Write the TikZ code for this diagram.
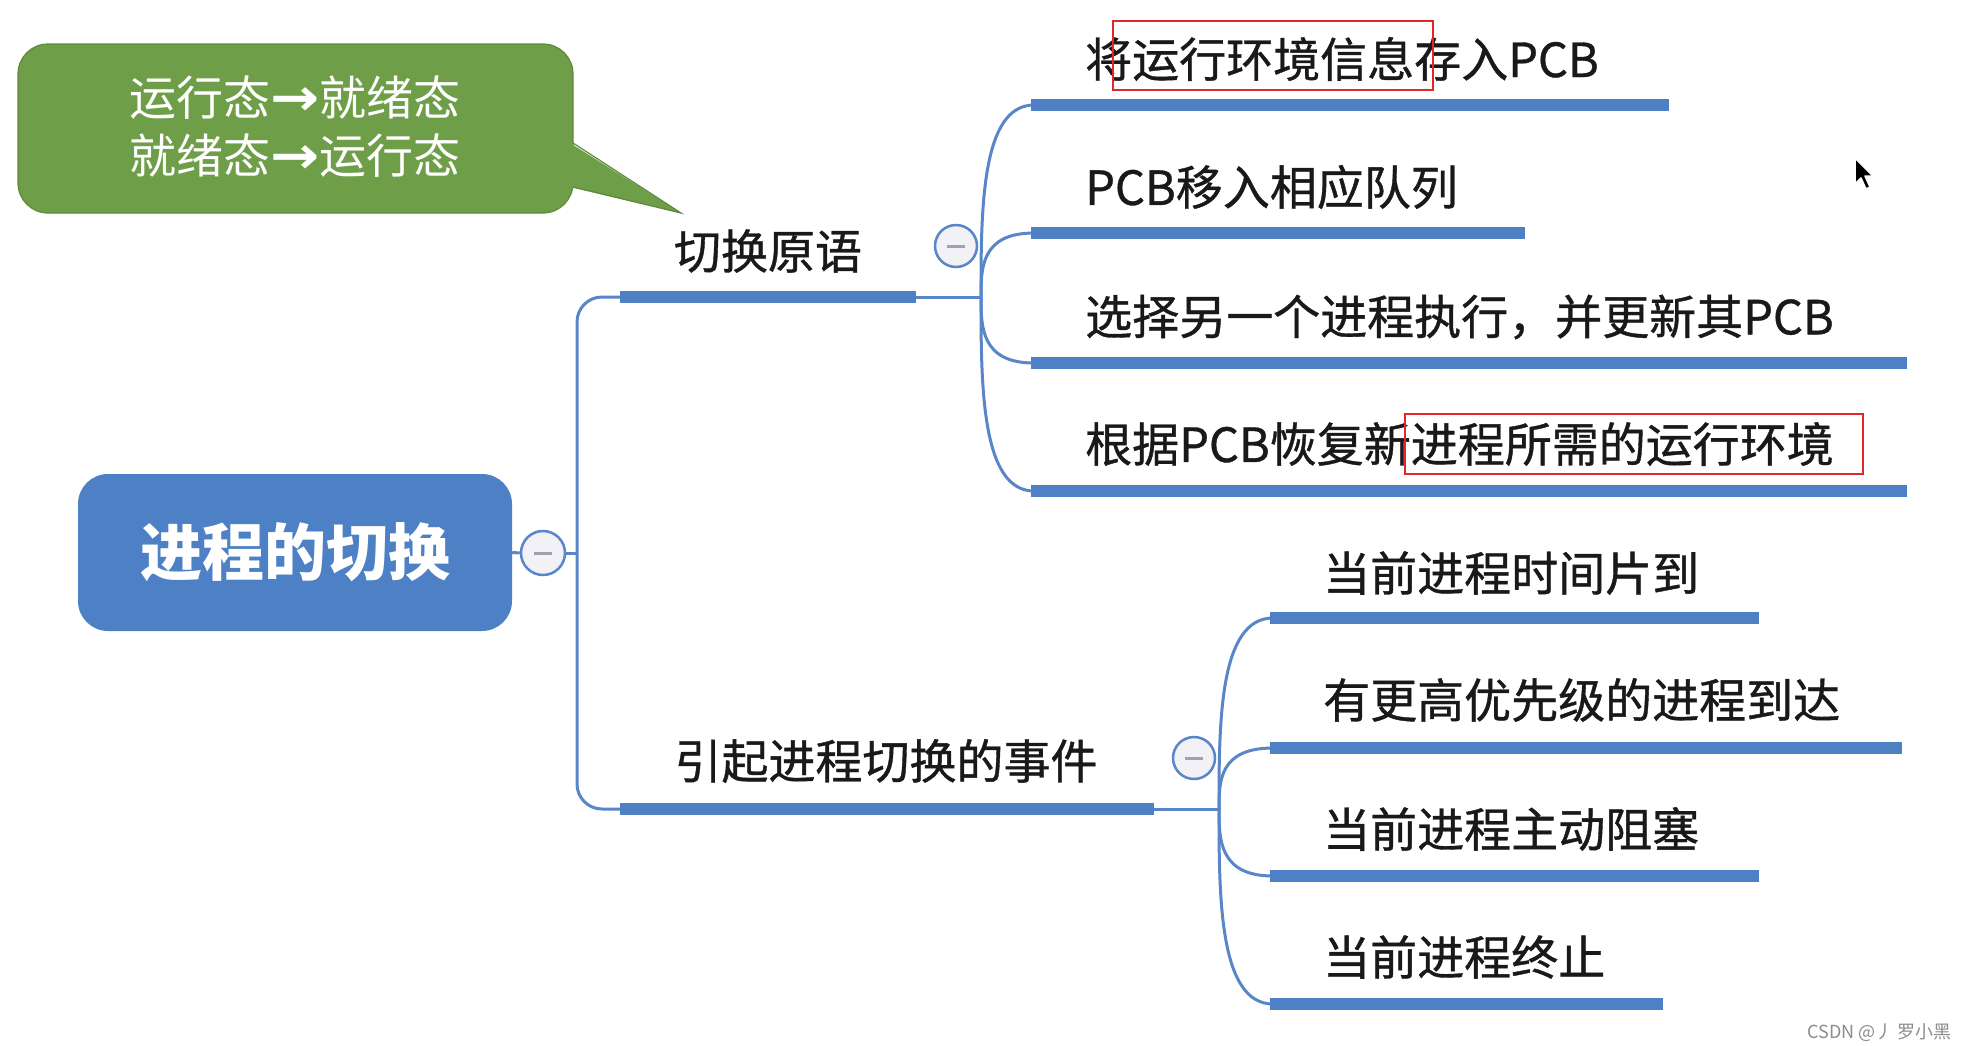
\documentclass[tikz,border=0pt]{standalone}
\usepackage{graphicx}
\usepackage{fontspec}
\setmainfont{Noto Sans CJK SC}
\newfontfamily\lblfont{Noto Sans CJK SC}[FakeBold=0.8]
\newfontfamily\arrowfont{DejaVu Sans}
\usetikzlibrary{calc}
\definecolor{mblue}{HTML}{4E80C5}
\definecolor{lblue}{HTML}{5886C8}
\definecolor{cgreen}{HTML}{6F9E48}
\definecolor{cgreenb}{HTML}{5C8A3A}
\definecolor{rbox}{HTML}{E02828}
\definecolor{foldfill}{HTML}{F2F2F6}
\definecolor{foldminus}{HTML}{A0A0B4}
\tikzset{
  thinline/.style={draw=lblue, line width=3pt},
  barline/.style={draw=mblue, line width=12pt},
  lbl/.style={anchor=west, inner sep=0pt, text=black!90, font=\lblfont\fontsize{47}{56}\selectfont},
  mlbl/.style={anchor=center, inner sep=0pt, text=black!90, font=\lblfont\fontsize{47}{56}\selectfont},
  foldc/.style={circle, draw=lblue, line width=2.5pt, fill=foldfill, minimum size=42pt, inner sep=0pt},
  redbox/.style={draw=rbox, line width=2pt}
}
\newcommand{\foldminus}[1]{\draw[foldminus, line width=3pt] ($(#1)+(-9,0)$) -- ($(#1)+(9,0)$);}
\newcommand{\rarr}{{\arrowfont\bfseries\scalebox{1.25}[1.1]{→}}}
\begin{document}
\begin{tikzpicture}[x=1pt,y=-1pt]
\useasboundingbox[fill=white] (0,0) rectangle (1967,1045);

% callout
\node (callout) [draw=cgreenb, fill=cgreen, line width=1.2pt, rounded corners=30pt,
  minimum width=555pt, minimum height=169pt, inner sep=0pt] at (295.5,128.5) {};
\fill[cgreen] (570,143) -- (681,213) -- (570,187) -- cycle;
\draw[cgreenb, line width=1.2pt] (573,143) -- (681,213) -- (573,187);
\node (calltext) [text=white, align=center, inner sep=0pt,
  font=\fontsize{47}{58}\selectfont] at (295,127) {运行态\rarr 就绪态\\就绪态\rarr 运行态};

% root
\node (root) [fill=mblue, rounded corners=30pt, minimum width=434pt, minimum height=157pt,
  inner sep=0pt, text=white, font=\fontsize{62}{70}\selectfont\bfseries] at (295,552.5) {进程的切换};
\node (rootfold) [foldc, minimum size=44pt] at (543,553) {};
\coordinate (trunk) at (577,553);

% first level
\coordinate (b1s) at (620,297);
\coordinate (b1e) at (916,297);
\coordinate (f1) at (981,297);
\coordinate (b2s) at (620,809);
\coordinate (b2e) at (1154,809);
\coordinate (f2) at (1219,809);

\draw[thinline] (root.east) -- (rootfold.west);
\draw[thinline] (rootfold.east) -- (trunk);
\draw[thinline, rounded corners=25pt] (b1s) -| (trunk) |- (b2s);
\draw[barline] (b1s) -- (b1e);
\draw[thinline] (b1e) -- (f1);
\draw[barline] (b2s) -- (b2e);
\draw[thinline] (b2e) -- (f2);

\node[mlbl] (n1) at (768,251) {切换原语};
\node[mlbl] (n2) at (886,761) {引起进程切换的事件};

% children of branch 1
\coordinate (c1s) at (1031,105); \coordinate (c1e) at (1669,105);
\coordinate (c2s) at (1031,233); \coordinate (c2e) at (1525,233);
\coordinate (c3s) at (1031,363); \coordinate (c3e) at (1907,363);
\coordinate (c4s) at (1031,491); \coordinate (c4e) at (1907,491);
\foreach \c in {c1s,c2s,c3s,c4s}{
  \draw[thinline] (f1) .. controls ($(f1)!0.45!(f1 |- \c)$) and (f1 |- \c) .. ($(\c)+(3,0)$);
}
\draw[barline] (c1s) -- (c1e);
\draw[barline] (c2s) -- (c2e);
\draw[barline] (c3s) -- (c3e);
\draw[barline] (c4s) -- (c4e);
\node[lbl] (t1) at (1085,59) {将运行环境信息存入PCB};
\node[lbl] (t2) at (1085,187) {PCB移入相应队列};
\node[lbl] (t3) at (1085,317) {选择另一个进程执行，并更新其PCB};
\node[lbl] (t4) at (1085,444) {根据PCB恢复新进程所需的运行环境};

% children of branch 2
\coordinate (d1s) at (1270,618); \coordinate (d1e) at (1759,618);
\coordinate (d2s) at (1270,748); \coordinate (d2e) at (1902,748);
\coordinate (d3s) at (1270,876); \coordinate (d3e) at (1759,876);
\coordinate (d4s) at (1270,1004); \coordinate (d4e) at (1663,1004);
\foreach \c in {d1s,d2s,d3s,d4s}{
  \draw[thinline] (f2) .. controls ($(f2)!0.45!(f2 |- \c)$) and (f2 |- \c) .. ($(\c)+(3,0)$);
}
\draw[barline] (d1s) -- (d1e);
\draw[barline] (d2s) -- (d2e);
\draw[barline] (d3s) -- (d3e);
\draw[barline] (d4s) -- (d4e);
\node[lbl] (u1) at (1323,573) {当前进程时间片到};
\node[lbl] (u2) at (1323,700) {有更高优先级的进程到达};
\node[lbl] (u3) at (1323,829) {当前进程主动阻塞};
\node[lbl] (u4) at (1323,957) {当前进程终止};

% fold circles
\node (fold1) [foldc] at (956,246) {};
\node (fold2) [foldc] at (1194,758) {};
\foldminus{rootfold}
\foldminus{fold1}
\foldminus{fold2}

% red highlight boxes
\draw[redbox] (1113,21) rectangle (1433,90);
\draw[redbox] (1405,414) rectangle (1863,474);

% mouse cursor
\filldraw[fill=black, draw=white, line width=1.5pt, line join=round]
  (1855,158) -- (1855,184) -- (1861,178) -- (1866,189) -- (1870,187) -- (1865,176) -- (1873,176) -- cycle;

% watermark
\node (wm) [anchor=east, inner sep=0pt, text=black!45, font=\fontsize{18}{20}\selectfont] at (1952,1033) {CSDN @丿 罗小黑};
\end{tikzpicture}
\end{document}
